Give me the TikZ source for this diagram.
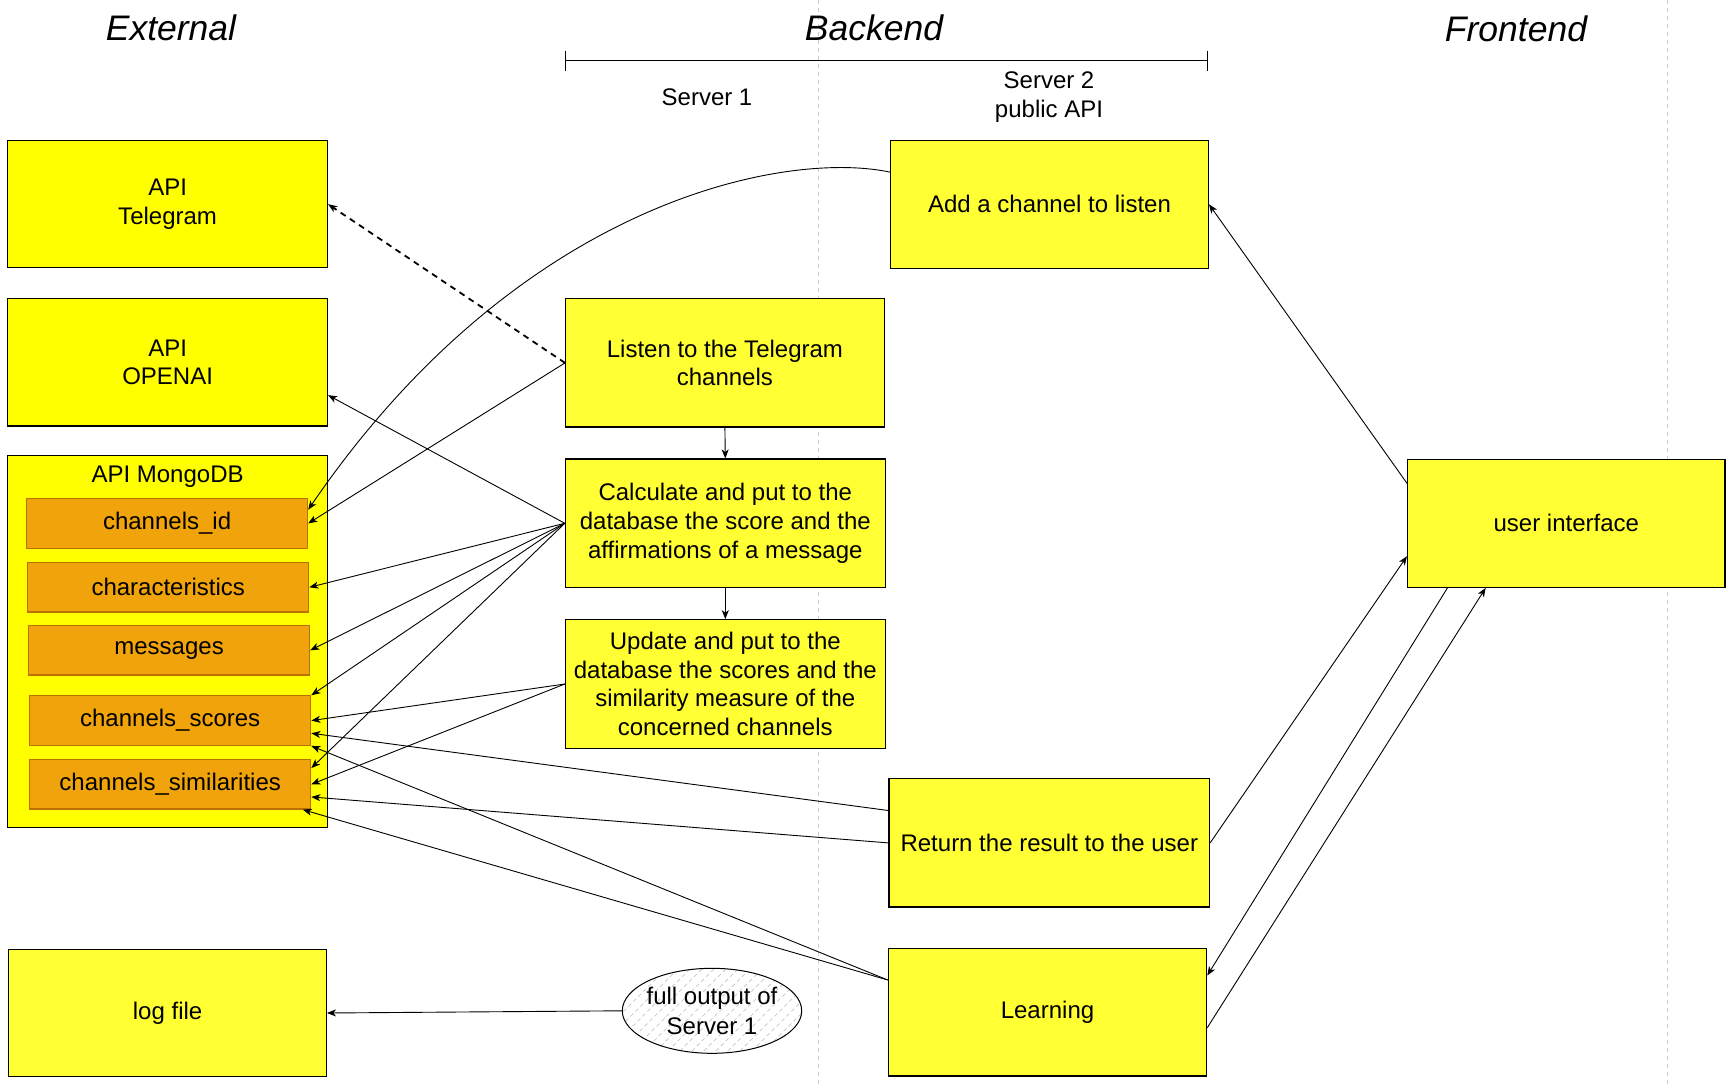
\documentclass[tikz,border=0pt]{standalone}
\usepackage{fontspec}
\setmainfont{Liberation Sans}
\usetikzlibrary{arrows.meta,calc,shapes.geometric}
\definecolor{yel}{HTML}{FFFF33}
\definecolor{ylw}{HTML}{FFFF00}
\definecolor{org}{HTML}{F0A30A}
\definecolor{orgd}{HTML}{BD7000}
\begin{document}
\begin{tikzpicture}[x=1pt,y=-1pt,
  txt/.style={font=\fontsize{24}{28.8}\selectfont, align=center},
  box/.style={txt, draw=black, line width=1.2pt, fill=yel, inner sep=2pt},
  extbox/.style={box, fill=ylw},
  inbox/.style={txt, draw=orgd, line width=1.2pt, fill=org, minimum width=281pt, minimum height=49.5pt},
  conn/.style={line width=0.9pt, -{Stealth[length=9pt,width=7pt,inset=2.5pt]}},
  title/.style={font=\fontsize{35.5}{40}\selectfont\itshape},
  lane/.style={gray!40, dash pattern=on 4pt off 4pt, line width=1pt}]
\useasboundingbox (0,0) rectangle (1735,1084);
\fill[white] (0,0) rectangle (1735,1084);

% lanes
\draw[lane] (818,0) -- (818,1084);
\draw[lane] (1667.5,0) -- (1667.5,1084);

% titles
\node[title] (tExt) at (171,27.7) {External};
\node[title] (tBack) at (874,27.7) {Backend};
\node[title] (tFront) at (1516,29) {Frontend};

% bracket
\draw[line width=1pt] (565.4,60.3) -- (1207.2,60.3);
\draw[line width=1pt] (565.4,50.5) -- (565.4,70.5);
\draw[line width=1pt] (1207.2,50.5) -- (1207.2,70.5);
\node[txt] (s1) at (707,97) {Server 1};
\node[txt] (s2) at (1049,97) {Server 2\\public API};

% external boxes
\node[extbox, minimum width=319.8pt, minimum height=127.3pt] (tg) at (167.6,204.2) {API\\Telegram};
\node[extbox, minimum width=319.8pt, minimum height=127.3pt] (oa) at (167.6,362.4) {API\\OPENAI};
\node[extbox, minimum width=319.8pt, minimum height=372pt] (mongo) at (167.6,641.8) {};
\node[txt] (mtitle) at (167.6,477) {API MongoDB};
\node[inbox] (cid) at (167.1,523.4) {channels\_id};
\node[inbox] (char) at (168.2,587.3) {characteristics};
\node[inbox] (msg) at (169.1,650.3) {messages};
\node[inbox] (scores) at (170.2,720.6) {channels\_scores};
\node[inbox] (sims) at (170.2,784.3) {channels\_similarities};
\node[box, minimum width=317.5pt, minimum height=127.2pt] (log) at (167.6,1013) {log file};

% backend boxes
\node[box, minimum width=318.6pt, minimum height=128.2pt] (listen) at (724.9,362.9) {Listen to the Telegram\\channels};
\node[box, minimum width=319.8pt, minimum height=128.5pt] (calc) at (725.3,523.3) {Calculate and put to the\\database the score and the\\affirmations of a message};
\node[box, minimum width=319.8pt, minimum height=128.5pt] (upd) at (725.3,684) {Update and put to the\\database the scores and the\\similarity measure of the\\concerned channels};
\node[box, minimum width=317.8pt, minimum height=127.6pt] (add) at (1049.5,204.3) {Add a channel to listen};
\node[box, minimum width=320.5pt, minimum height=128.3pt] (ret) at (1049.3,842.9) {Return the result to the user};
\node[box, minimum width=318.4pt, minimum height=127.7pt] (learn) at (1047.5,1012.2) {Learning};

% frontend
\node[box, minimum width=317.5pt, minimum height=128pt] (ui) at (1566.3,523.3) {user interface};

% ellipse
\node[ellipse, draw=black, line width=1pt, fill=white, minimum width=179.4pt, minimum height=85pt, inner sep=0pt,
  path picture={
    \foreach \i in {-160,-148,...,160}
      \draw[gray!45, line width=0.8pt, dash pattern=on 4pt off 3pt]
        ([shift={(\i-60,60)}]path picture bounding box.center) -- ++(120,-120);
  },
  label={[txt, font=\fontsize{24}{30}\selectfont]center:full output of\\Server 1}] (out) at (712,1010.8) {};

% connectors
\draw[conn, line width=1.8pt, dash pattern=on 6pt off 5pt] (listen.west) -- (tg.east);
\draw[conn] (listen.west) -- (cid.east);
\draw[conn] ($(add.north west)!0.25!(add.south west)$) .. controls (785,150) and (520,200) .. ($(cid.north east)!0.23!(cid.south east)$);
\draw[conn] (calc.west) -- ($(oa.north east)!0.755!(oa.south east)$);
\draw[conn] (calc.west) -- (char.east);
\draw[conn] (calc.west) -- (msg.east);
\draw[conn] (calc.west) -- (scores.north east);
\draw[conn] (calc.west) -- ($(sims.north east)!0.18!(sims.south east)$);
\draw[conn] (listen.south) -- (calc.north);
\draw[conn] (calc.south) -- (upd.north);
\draw[conn] (upd.west) -- (scores.east);
\draw[conn] (upd.west) -- (sims.east);
\draw[conn] ($(ret.north west)!0.25!(ret.south west)$) -- ($(scores.north east)!0.75!(scores.south east)$);
\draw[conn] (ret.west) -- ($(sims.north east)!0.75!(sims.south east)$);
\coordinate (lw) at ($(learn.north west)!0.25!(learn.south west)$);
\draw[conn] (lw) -- (scores.south east);
\draw[conn] (lw) -- ([xshift=-8.5pt]sims.south east);
\draw[conn] ($(ui.north west)!0.19!(ui.south west)$) -- (add.east);
\draw[conn] (ret.east) -- ($(ui.north west)!0.755!(ui.south west)$);
\draw[conn] ($(ui.south west)!0.127!(ui.south east)$) -- ($(learn.north east)!0.215!(learn.south east)$);
\draw[conn] ($(learn.north east)!0.62!(learn.south east)$) -- ($(ui.south west)!0.247!(ui.south east)$);
\draw[conn] (out.west) -- (log.east);
\end{tikzpicture}
\end{document}
